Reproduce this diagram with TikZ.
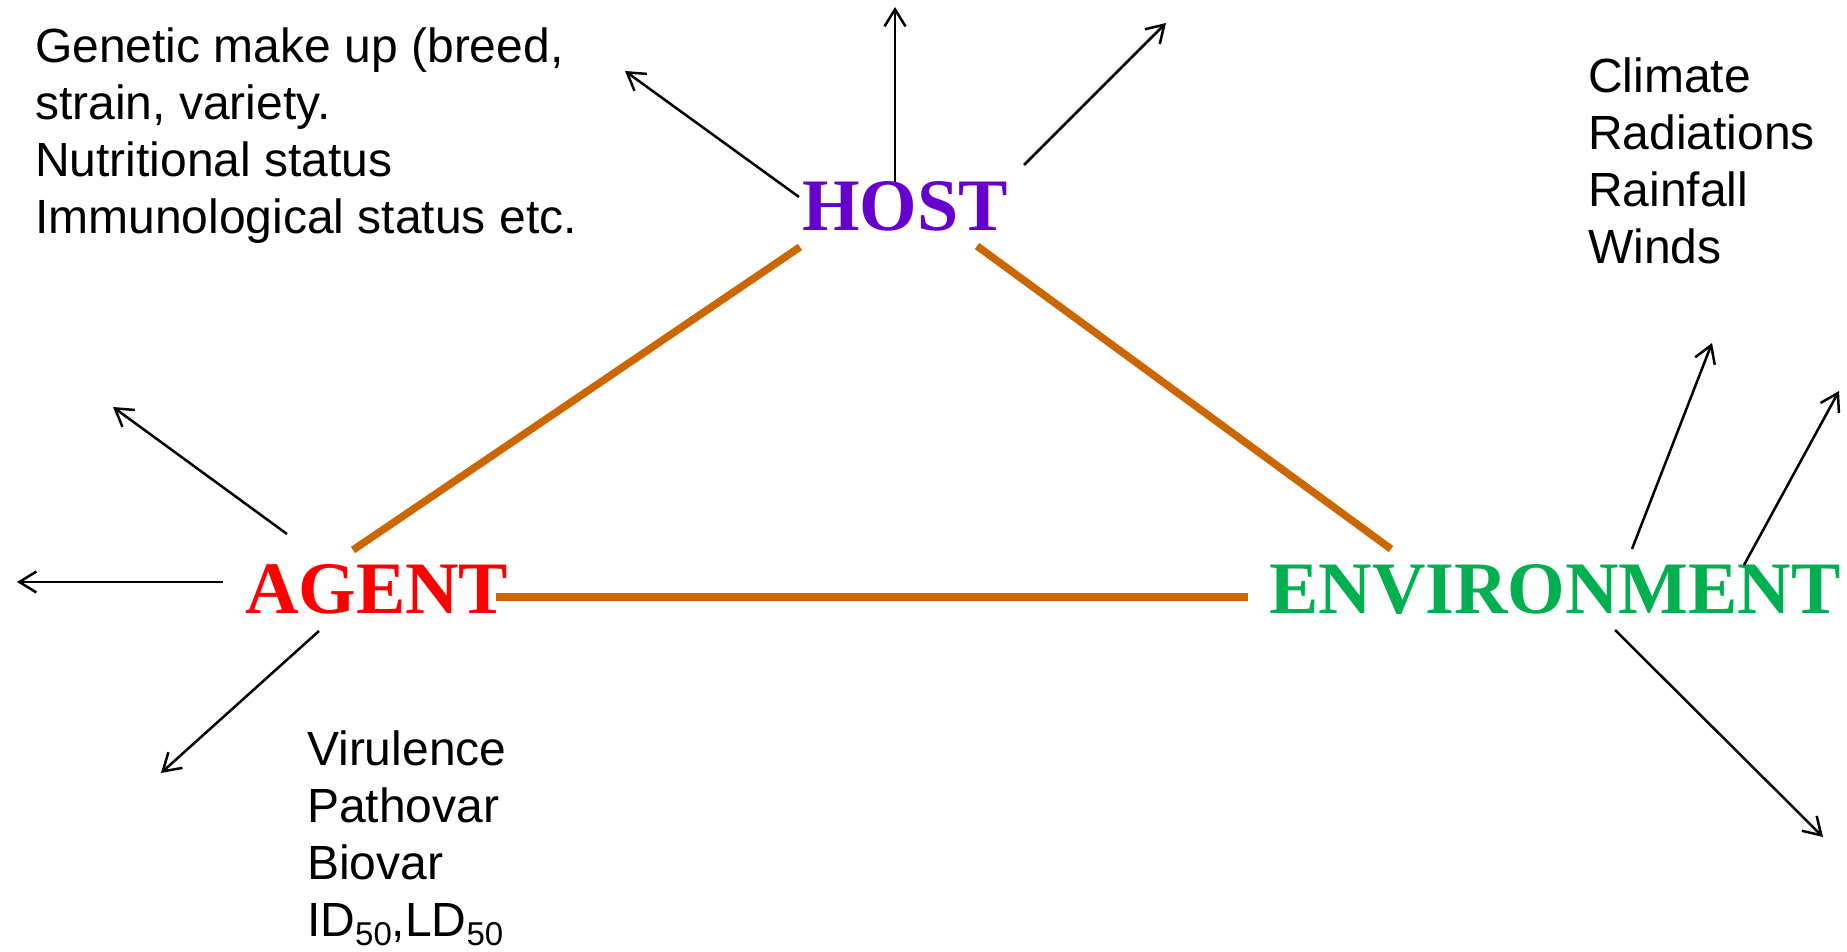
\documentclass[tikz,border=0pt]{standalone}
\usepackage{fontspec}
\setmainfont{Liberation Sans}
\newfontfamily\tnr{Liberation Serif}
\usetikzlibrary{arrows.meta}
\definecolor{hostpurple}{HTML}{6600CC}
\definecolor{agentred}{HTML}{FF0000}
\definecolor{envgreen}{HTML}{00B050}
\definecolor{linkorange}{HTML}{CC6600}
\newcommand{\subfifty}{\raisebox{-9pt}{\fontsize{33}{33}\selectfont 50}}
\begin{document}
\begin{tikzpicture}[x=1pt,y=-1pt,
  lbl/.style={font=\tnr\bfseries\fontsize{74}{80}\selectfont, inner sep=0pt, anchor=base west},
  info/.style={font=\fontsize{48}{57}\selectfont, inner sep=0pt, anchor=base west},
  link/.style={draw=linkorange, line width=7.5pt},
  outarrow/.style={draw=black, line width=2.5pt, -{Straight Barb[length=17pt,width=21pt]}}]
\useasboundingbox (0,0) rectangle (1847,952);
\fill[white] (0,0) rectangle (1847,952);

% main labels
\node[lbl, text=hostpurple] (host) at (802,230) {HOST};
\node[lbl, text=agentred] (agent) at (245,613) {AGENT};
\node[lbl, text=envgreen] (env) at (1269,613) {ENVIRONMENT};

% info texts
\node[info] (hostinfo) at (35,63) {\begin{tabular}[t]{@{}l@{}}Genetic make up (breed,\\strain, variety.\\Nutritional status\\Immunological status etc.\end{tabular}};
\node[info] (envinfo) at (1588,93) {\begin{tabular}[t]{@{}l@{}}Climate\\Radiations\\Rainfall\\Winds\end{tabular}};
\node[info] (agentinfo) at (307,765) {\begin{tabular}[t]{@{}l@{}}Virulence\\Pathovar\\Biovar\\ID\subfifty,LD\subfifty\end{tabular}};

% link end points
\coordinate (ha1) at (800,247);
\coordinate (ha2) at (353,550);
\coordinate (he1) at (977,246);
\coordinate (he2) at (1391,549);
\coordinate (ae1) at (496,597);
\coordinate (ae2) at (1248,597);
\draw[link] (ha1) -- (ha2);
\draw[link] (he1) -- (he2);
\draw[link] (ae1) -- (ae2);

% host arrows
\coordinate (hs1) at (799,197); \coordinate (ht1) at (625,71);
\coordinate (hs2) at (895,182); \coordinate (ht2) at (895,7);
\coordinate (hs3) at (1024,165); \coordinate (ht3) at (1166,23);
\draw[outarrow] (hs1) -- (ht1);
\draw[outarrow] (hs2) -- (ht2);
\draw[outarrow] (hs3) -- (ht3);

% agent arrows
\coordinate (as1) at (287,534); \coordinate (at1) at (113,407);
\coordinate (as2) at (223,582); \coordinate (at2) at (17,582);
\coordinate (as3) at (319,631); \coordinate (at3) at (161,773);
\draw[outarrow] (as1) -- (at1);
\draw[outarrow] (as2) -- (at2);
\draw[outarrow] (as3) -- (at3);

% environment arrows
\coordinate (es1) at (1632,549); \coordinate (et1) at (1712,343);
\coordinate (es2) at (1744,565); \coordinate (et2) at (1839,391);
\coordinate (es3) at (1615,630); \coordinate (et3) at (1823,837);
\draw[outarrow] (es1) -- (et1);
\draw[outarrow] (es2) -- (et2);
\draw[outarrow] (es3) -- (et3);
\end{tikzpicture}
\end{document}
